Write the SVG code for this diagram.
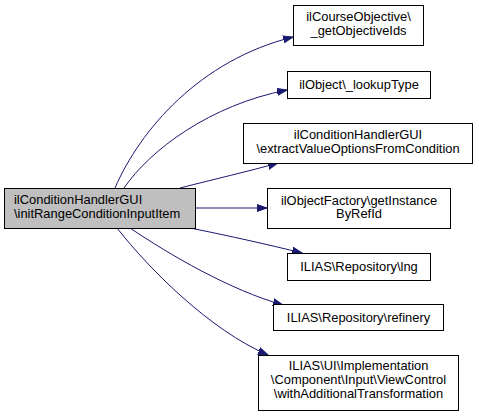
<svg xmlns="http://www.w3.org/2000/svg" width="479" height="417" viewBox="0 0 479 417">
<style>
.box{fill:#ffffff;stroke:#000000;stroke-width:1}
.src{fill:#bfbfbf;stroke:#000000;stroke-width:1}
text{font-family:"Liberation Sans",Arial,sans-serif;font-size:12.9px;fill:#000000}
.c{text-anchor:middle}
.edge{fill:none;stroke:#191970;stroke-width:1;marker-end:url(#arr)}
</style>
<defs>
<marker id="arr" markerUnits="userSpaceOnUse" markerWidth="11" markerHeight="8" refX="10" refY="4" orient="auto">
<path d="M0,0.5 L10,4 L0,7.5 z" fill="#191970" stroke="#191970"/>
</marker>
</defs>
<g id="edges">
<path class="edge" d="M115,188 C140,130 200,60 293,37"/>
<path class="edge" d="M124,188 C150,150 210,105 287,90"/>
<path class="edge" d="M180,188 C215,179 250,171 278,163"/>
<path class="edge" d="M196,208 L267,208"/>
<path class="edge" d="M190,228 C230,236 270,245 302,253"/>
<path class="edge" d="M130,228 C170,255 230,290 283,305"/>
<path class="edge" d="M117,228 C150,270 210,330 268,355"/>
</g>
<g id="node_src">
<rect class="src" x="4.5" y="188.5" width="191" height="40"/>
<text x="14" y="204">ilConditionHandlerGUI</text>
<text x="14" y="217.5">\initRangeConditionInputItem</text>
</g>
<g id="node_getObjectiveIds">
<rect class="box" x="293.5" y="5.5" width="130" height="40"/>
<text class="c" x="358.5" y="21">ilCourseObjective\</text>
<text class="c" x="358.5" y="35">_getObjectiveIds</text>
</g>
<g id="node_lookupType">
<rect class="box" x="287.5" y="71.5" width="143" height="27"/>
<text class="c" x="359" y="89">ilObject\_lookupType</text>
</g>
<g id="node_extractValueOptions">
<rect class="box" x="243.5" y="123.5" width="229" height="40"/>
<text class="c" x="358" y="139">ilConditionHandlerGUI</text>
<text class="c" x="358" y="153">\extractValueOptionsFromCondition</text>
</g>
<g id="node_getInstanceByRefId">
<rect class="box" x="267.5" y="188.5" width="183" height="40"/>
<text class="c" x="359" y="204.5">ilObjectFactory\getInstance</text>
<text class="c" x="359" y="218">ByRefId</text>
</g>
<g id="node_lng">
<rect class="box" x="287.5" y="253.5" width="143" height="27"/>
<text class="c" x="359" y="271">ILIAS\Repository\lng</text>
</g>
<g id="node_refinery">
<rect class="box" x="273.5" y="304.5" width="170" height="26"/>
<text class="c" x="358.5" y="322">ILIAS\Repository\refinery</text>
</g>
<g id="node_withAdditionalTransformation">
<rect class="box" x="258.5" y="355.5" width="200" height="55"/>
<text class="c" x="358.5" y="370">ILIAS\UI\Implementation</text>
<text class="c" x="358.5" y="384">\Component\Input\ViewControl</text>
<text class="c" x="358.5" y="398">\withAdditionalTransformation</text>
</g>
</svg>
